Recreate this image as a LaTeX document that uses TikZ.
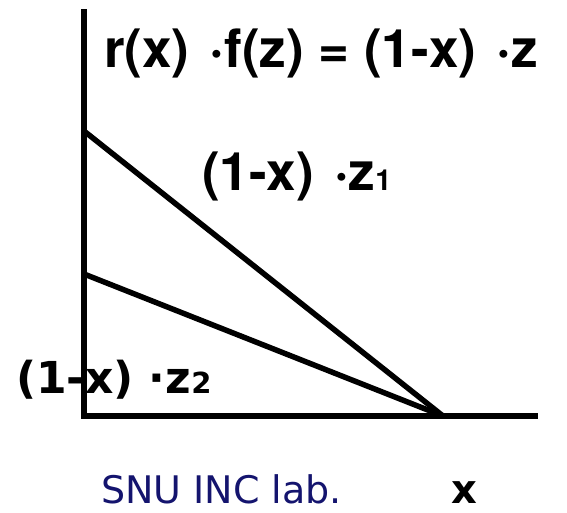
\documentclass[tikz,border=0pt]{standalone}
\usepackage{fontspec}
\setmainfont{TeX Gyre Heros}
\newfontfamily\labfont{DejaVu Sans}
\definecolor{snunavy}{RGB}{20,20,110}
\usetikzlibrary{positioning}

\newcommand{\idx}[1]{{\fontsize{29}{29}\selectfont #1}}
\newcommand{\gap}{\hspace{0.38em}}

\begin{document}
\begin{tikzpicture}[
x=1pt, y=-1pt,
axis/.style={line width=6.5pt},
curve/.style={line width=5.5pt},
eqlabel/.style={inner sep=0pt, anchor=base west, font=\fontsize{53}{60}\selectfont\bfseries},
sublabel/.style={inner sep=0pt, anchor=base west, font=\labfont\fontsize{44}{50}\selectfont\bfseries}
]
\useasboundingbox (0,0) rectangle (567,512);

\coordinate (top) at (84,9);
\coordinate (origin) at (84,416);
\coordinate (xend) at (538,416);
\coordinate (zero) at (443,416);
\coordinate (high) at (84,131);
\coordinate (low) at (84,274);

\draw[axis] (top) -- (84,419);
\draw[axis] (origin) -- (xend);

\draw[curve] (high) -- (zero);
\draw[curve] (low) -- (zero);

\node[eqlabel] (product) at (104,67) {r(x)\gap·f(z) = (1-x)\gap·z};
\node[eqlabel] (zone) at (202,190) {(1-x)\gap·z\idx{1}};
\node[sublabel] (ztwo) at (16,393) {(1-x) ·z\idx{2}};

\node[inner sep=0pt, anchor=base west, text=snunavy, font=\labfont\fontsize{38}{40}\selectfont] (lab) at (101,503) {SNU INC lab.};
\node[inner sep=0pt, anchor=base west, font=\labfont\fontsize{40}{42}\selectfont\bfseries] (xlabel) at (451,503) {x};

\end{tikzpicture}
\end{document}
